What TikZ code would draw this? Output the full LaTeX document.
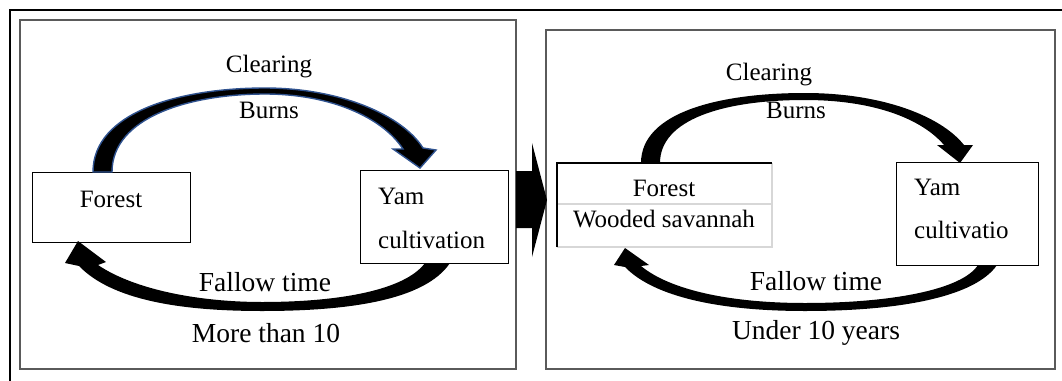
\documentclass[tikz,border=0pt]{standalone}
\usepackage{fontspec}
\setmainfont{Liberation Serif}
\definecolor{panelgray}{RGB}{90,90,90}
\definecolor{tablegray}{RGB}{215,215,215}
\definecolor{arrowblue}{RGB}{47,82,143}
\tikzset{
  panel/.style={draw=panelgray, line width=1.6pt},
  box/.style={draw=black, line width=1pt, inner sep=0pt, outer sep=0pt},
  lbl/.style={font=\fontsize{25}{30}\selectfont, inner sep=0pt, anchor=base},
  lblbig/.style={font=\fontsize{27.5}{33}\selectfont, inner sep=0pt, anchor=base},
  blockarrow/.style={fill=black},
}
\begin{document}
\begin{tikzpicture}[x=1pt, y=-1pt]
\useasboundingbox (0,0) rectangle (1062,380);
\clip (0,0) rectangle (1062,380);
\fill[white] (0,0) rectangle (1062,380);
% outer frame (only top and left visible)
\draw[line width=2.6pt] (10,400) -- (10,10) -- (1080,10);
% panels
\draw[panel] (20,20) rectangle (516,369);
\draw[panel] (546,30) rectangle (1055,369);

% ---------- left panel ----------
\node[box, minimum width=158pt, minimum height=70pt] (forestL) at (111,207) {};
\node[box, minimum width=148pt, minimum height=93pt] (yamL) at (434,216.5) {};
\node[lbl] (tForestL) at (111,207) {Forest};
\node[lbl, anchor=base west] (tYamL) at (378,204) {Yam};
\node[lbl, anchor=base west] (tCultL) at (378,248) {cultivation};
\node[lbl] (tClearL) at (269,72) {Clearing};
\node[lbl] (tBurnsL) at (269,118) {Burns};
\node[lblbig] (tFallowL) at (265,291) {Fallow time};
\node[lblbig] (tMoreL) at (266,342) {More than 10};

% top curved arrow (blue outline)
\filldraw[fill=black, draw=arrowblue, line width=1.4pt, line join=miter]
  (93,172) .. controls (93,112) and (180,88) .. (265,88)
  .. controls (340,88) and (402,115) .. (423,148)
  -- (436,150) -- (420,168) -- (393,149) -- (403,149)
  .. controls (382,117) and (330,94) .. (265,94)
  .. controls (190,94) and (112,117) .. (112,172) -- cycle;

% bottom curved arrow
\fill[blockarrow]
  (450,263) .. controls (425,300) and (350,311) .. (262,311)
  .. controls (180,311) and (112,300) .. (79,266)
  -- (65,263) -- (78,241) -- (106,262) -- (98,265)
  .. controls (135,290) and (200,302) .. (262,302)
  .. controls (340,302) and (405,290) .. (425,263) -- cycle;

% ---------- middle block arrow ----------
\fill[blockarrow] (516,171) -- (532,171) -- (532,143) -- (547,200)
  -- (532,257) -- (532,228) -- (516,228) -- cycle;

% ---------- right panel ----------
\node[inner sep=0pt, outer sep=0pt, minimum width=215pt, minimum height=84pt] (forestR) at (664.5,205) {};
\coordinate (fmid) at (0,204);
\draw[tablegray, line width=1.4pt] (forestR.north east) -- (forestR.south east) -- (forestR.south west);
\draw[tablegray, line width=1.4pt] (forestR.west |- fmid) -- (forestR.east |- fmid);
\draw[black, line width=1.2pt] (forestR.south west) -- (forestR.north west) -- (forestR.north east);
\node[box, minimum width=142pt, minimum height=103pt] (yamR) at (967,213.5) {};
\node[lbl] (tForestR) at (664,196) {Forest};
\node[lbl] (tWoodR) at (664,227) {Wooded savannah};
\node[lbl, anchor=base west] (tYamR) at (914,195) {Yam};
\node[lbl, anchor=base west] (tCultR) at (914,238) {cultivatio};
\node[lbl] (tClearR) at (769,80) {Clearing};
\node[lbl] (tBurnsR) at (796,118) {Burns};
\node[lblbig] (tFallowR) at (816,290) {Fallow time};
\node[lblbig] (tUnderR) at (816,339) {Under 10 years};

% top curved arrow right
\fill[blockarrow]
  (641,163) .. controls (641,112) and (720,93) .. (805,93)
  .. controls (880,93) and (940,115) .. (964,145)
  -- (973,145) -- (960,163) -- (937,145) -- (944,145)
  .. controls (920,117) and (870,100) .. (805,100)
  .. controls (722,100) and (660,120) .. (660,163) -- cycle;

% bottom curved arrow right
\fill[blockarrow]
  (997,265) .. controls (975,297) and (900,311) .. (805,311)
  .. controls (720,311) and (654,297) .. (625,267)
  -- (614,265) -- (625,248) -- (649,265) -- (641,266)
  .. controls (670,290) and (730,303) .. (805,303)
  .. controls (890,303) and (962,290) .. (978,265) -- cycle;
\end{tikzpicture}
\end{document}
